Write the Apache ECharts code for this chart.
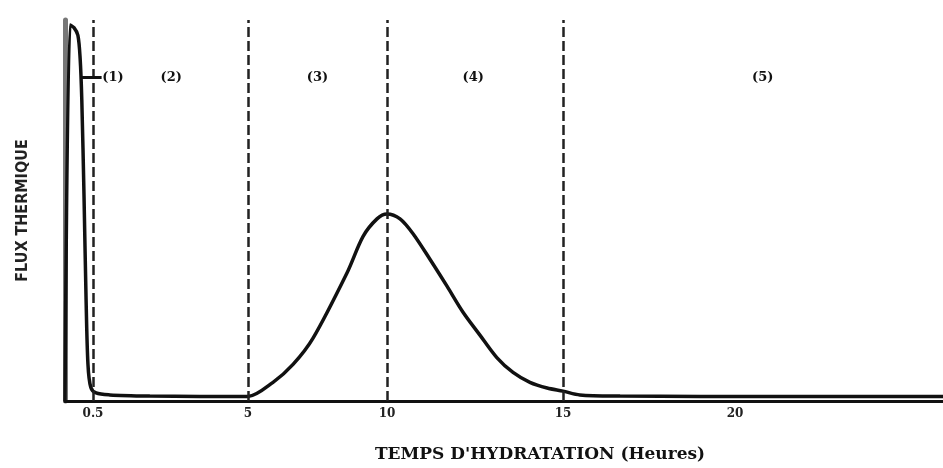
<!DOCTYPE html>
<html>
<head>
<meta charset="utf-8">
<script src="https://cdn.jsdelivr.net/npm/echarts@6/dist/echarts.min.js"></script>
<style>html,body{margin:0;padding:0;background:#fff;}#chart{width:943px;height:468px;}</style>
</head>
<body>
<div id="chart"></div>
<script>
// Hours of hydration (x) and heat flux (arbitrary units, 0-100)
const hours = [0, 0.09, 0.16, 0.23, 0.27, 0.30, 0.34, 0.375, 0.41, 0.46, 0.59, 0.99, 2.15, 3.6, 5.0,
  5.9, 6.62, 7.34, 8.56, 9.14, 9.64, 10.0, 10.37, 10.74, 11.22, 11.7, 12.16, 12.64, 13.12, 13.58,
  14.06, 14.55, 15.0, 15.49, 16.66, 19.0, 26.0];
const flux = [0, 98.7, 98, 96, 90, 79, 53.5, 27.6, 9.6, 3.6, 2.1, 1.6, 1.3, 1.2, 1.2,
  4.9, 9.6, 16.5, 33.6, 43.2, 47.8, 49.1, 47.8, 43.9, 37.2, 30.2, 23.3, 17.3, 11.4, 7.5,
  4.9, 3.4, 2.6, 1.6, 1.3, 1.2, 1.2];

// The original time axis is not drawn to scale: piecewise-linear axis (hours -> axis units)
const axisHours = [0, 0.5, 5, 10, 15, 20, 26];
const axisUnits = [0, 28, 183, 322, 498, 670, 878];

const tickHours = [0.5, 5, 10, 15, 20];
const tickLabels = ['0.5', '5', '10', '15', '20'];
const phaseBoundaries = [0.5, 5, 10, 15];
const phaseLabels = ['(1)', '(2)', '(3)', '(4)', '(5)'];
const phaseLabelHours = [1.08, 2.77, 7.5, 12.45, 20.8];
const phaseLabelFlux = 85;
const phase1Pointer = [0.3, 0.75];

const xTitle = "TEMPS D'HYDRATATION (Heures)";
const yTitle = 'FLUX THERMIQUE';

function warp(h) {
  for (let i = 1; i < axisHours.length; i++) {
    if (h <= axisHours[i]) {
      const t = (h - axisHours[i - 1]) / (axisHours[i] - axisHours[i - 1]);
      return axisUnits[i - 1] + t * (axisUnits[i] - axisUnits[i - 1]);
    }
  }
  return axisUnits[axisUnits.length - 1];
}

const seriesData = hours.map((h, i) => [warp(h), flux[i]]);
const tickPos = tickHours.map(warp);

const serif = 'DejaVu Serif, Liberation Serif, serif';

const chart = echarts.init(document.getElementById('chart'), null, {renderer: 'canvas'});
chart.setOption({
  animation: false,
  backgroundColor: '#fff',
  grid: {left: 65, right: 0, top: 20, bottom: 61, containLabel: false},
  xAxis: {
    type: 'value', min: 0, max: axisUnits[axisUnits.length - 1],
    splitLine: {show: false},
    axisTick: {show: false},
    axisLine: {show: true, onZero: false, lineStyle: {color: '#111', width: 3}},
    axisLabel: {
      customValues: tickPos,
      margin: 7,
      color: '#222', fontFamily: serif, fontWeight: 'bold', fontSize: 12,
      formatter: function (v) {
        let best = 0;
        tickPos.forEach((p, i) => { if (Math.abs(p - v) < Math.abs(tickPos[best] - v)) best = i; });
        return tickLabels[best];
      }
    },
    name: xTitle, nameLocation: 'middle', nameGap: 45,
    nameTextStyle: {color: '#111', fontFamily: serif, fontWeight: 'bold', fontSize: 17, padding: [0, 0, 0, 72]}
  },
  yAxis: {
    type: 'value', min: 0, max: 100,
    splitLine: {show: false},
    axisTick: {show: false},
    axisLabel: {show: false},
    axisLine: {show: true, lineStyle: {color: '#777', width: 5}},
    name: yTitle, nameLocation: 'middle', nameGap: 34, nameRotate: 90,
    nameTextStyle: {color: '#222', fontFamily: 'DejaVu Sans Condensed, Liberation Sans Narrow, sans-serif', fontWeight: 'bold', fontSize: 16, padding: [0, 0, 0, 0]}
  },
  series: [{
    type: 'line',
    data: seriesData,
    showSymbol: false,
    smooth: 0.3,
    lineStyle: {color: '#111', width: 3.5},
    markLine: {
      silent: true,
      symbol: 'none',
      label: {show: false},
      lineStyle: {color: '#222', width: 2.5, type: [10, 4]},
      data: phaseBoundaries.map(h => ({xAxis: warp(h)})).concat([
        [{coord: [warp(phase1Pointer[0]), phaseLabelFlux], lineStyle: {type: 'solid', width: 3, color: '#111'}},
         {coord: [warp(phase1Pointer[1]), phaseLabelFlux]}]
      ])
    },
    markPoint: {
      silent: true,
      symbol: 'circle', symbolSize: 1,
      itemStyle: {color: 'rgba(0,0,0,0)'},
      label: {
        show: true, position: 'inside',
        color: '#111', fontFamily: serif, fontWeight: 'bold', fontSize: 13,
        formatter: p => p.name
      },
      data: phaseLabels.map((t, i) => ({name: t, coord: [warp(phaseLabelHours[i]), phaseLabelFlux]}))
    }
  }]
});
</script>
</body>
</html>
